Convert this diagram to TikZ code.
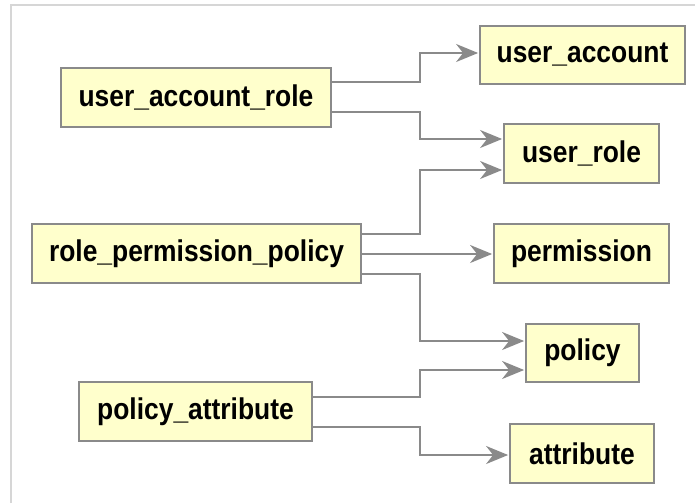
\documentclass[tikz,border=0pt]{standalone}
\usepackage{fontspec}
\newfontfamily\tablefont{Liberation Sans}[FakeStretch=0.88]
\usetikzlibrary{arrows.meta}
\definecolor{boxfill}{HTML}{FFFFCC}
\definecolor{boxline}{HTML}{8A8A8A}
\definecolor{linkline}{HTML}{8A8A8A}
\definecolor{framegray}{HTML}{D6D6D6}
\tikzset{
  table/.style={draw=boxline, fill=boxfill, line width=1.8pt, inner sep=0pt,
    font=\tablefont\bfseries\fontsize{30}{32}\selectfont, text=black},
  link/.style={draw=linkline, line width=1.8pt,
    -{Stealth[length=22pt,width=18pt,inset=7pt]}, shorten >=1pt},
}
\begin{document}
\begin{tikzpicture}[x=1pt,y=-1pt]
  \useasboundingbox (0,0) rectangle (695,503);
  % outer frame
  \draw[framegray, line width=1.5pt] (11,503) -- (11,5) -- (695,5);

  % tables
  \node[table, minimum width=205pt, minimum height=58pt] (ua)   at (582.5,55)   {user\_account};
  \node[table, minimum width=270pt, minimum height=59pt] (uar)  at (196,97.5)   {user\_account\_role};
  \node[table, minimum width=155pt, minimum height=59pt] (ur)   at (581.5,153.5) {user\_role};
  \node[table, minimum width=329pt, minimum height=59pt] (rpp)  at (196.5,253.5) {role\_permission\_policy};
  \node[table, minimum width=175pt, minimum height=59pt] (perm) at (581.5,253.5) {permission};
  \node[table, minimum width=113pt, minimum height=58pt] (pol)  at (582.5,353)  {policy};
  \node[table, minimum width=233pt, minimum height=59pt] (pa)   at (195.5,411.5) {policy\_attribute};
  \node[table, minimum width=144pt, minimum height=59pt] (attr) at (582,453.5)  {attribute};

  % foreign-key links, all bending at x = 420
  \draw[link] (uar.east |- 0,82)  -| (420,53)  -- (ua.west |- 0,53);
  \draw[link] (uar.east |- 0,112) -| (420,139) -- (ur.west |- 0,139);
  \draw[link] (rpp.east |- 0,234) -| (420,170) -- (ur.west |- 0,170);
  \draw[link] (rpp.east |- 0,254) -- (perm.west |- 0,254);
  \draw[link] (rpp.east |- 0,274) -| (420,341) -- (pol.west |- 0,341);
  \draw[link] (pa.east |- 0,397)  -| (420,370) -- (pol.west |- 0,370);
  \draw[link] (pa.east |- 0,427)  -| (420,455) -- (attr.west |- 0,455);
\end{tikzpicture}
\end{document}
